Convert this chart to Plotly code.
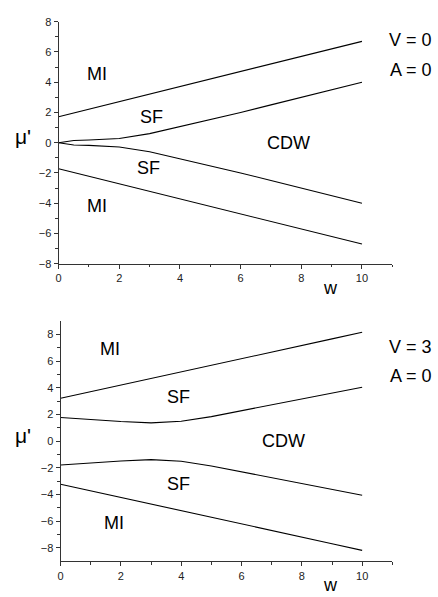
import plotly.graph_objects as go

# ---- data ----
w = [0, 0.5, 1, 2, 3, 4, 5, 6, 7, 8, 9, 10]

# V = 0, A = 0
v0_mi_upper = [1.72, 1.97, 2.22, 2.72, 3.22, 3.72, 4.22, 4.72, 5.21, 5.70, 6.20, 6.70]
v0_sf_upper = [0.0, 0.15, 0.18, 0.28, 0.60, 1.05, 1.50, 2.00, 2.50, 3.00, 3.50, 4.00]
v0_sf_lower = [-v for v in v0_sf_upper]
v0_mi_lower = [-v for v in v0_mi_upper]

# V = 3, A = 0
w3 = [0, 1, 2, 3, 4, 5, 6, 7, 8, 9, 10]
v3_mi_upper = [3.22, 3.71, 4.21, 4.70, 5.20, 5.69, 6.19, 6.68, 7.18, 7.68, 8.18]
v3_sf_upper = [1.78, 1.62, 1.48, 1.38, 1.50, 1.85, 2.30, 2.75, 3.20, 3.62, 4.05]
v3_sf_lower = [-v for v in v3_sf_upper]
v3_mi_lower = [-v for v in v3_mi_upper]

x_ticks = [0, 2, 4, 6, 8, 10]
top_y_ticks = [-8, -6, -4, -2, 0, 2, 4, 6, 8]
bot_y_ticks = [-8, -6, -4, -2, 0, 2, 4, 6, 8]

top_labels = [("MI", 1.27, 4.55), ("SF", 3.05, 1.7), ("SF", 2.97, -1.7),
              ("MI", 1.28, -4.2), ("CDW", 7.58, 0.0)]
bot_labels = [("MI", 1.63, 6.9), ("SF", 3.92, 3.3), ("SF", 3.92, -3.2),
              ("MI", 1.78, -6.1), ("CDW", 7.38, 0.0)]

fig = go.Figure()
line = dict(color="black", width=1.1)
for ys in [v0_mi_upper, v0_sf_upper, v0_sf_lower, v0_mi_lower]:
    fig.add_trace(go.Scatter(x=w, y=ys, mode="lines", line=line, xaxis="x", yaxis="y",
                             showlegend=False, hoverinfo="skip"))
for ys in [v3_mi_upper, v3_sf_upper, v3_sf_lower, v3_mi_lower]:
    fig.add_trace(go.Scatter(x=w3, y=ys, mode="lines", line=line, xaxis="x2", yaxis="y2",
                             showlegend=False, hoverinfo="skip"))

W, H = 438, 597
tickfont = dict(family="Liberation Sans, Arial, sans-serif", size=11, color="#222")
lblfont = dict(family="Liberation Sans, Arial, sans-serif", size=18, color="black")
mufont = dict(family="Liberation Sans, Arial, sans-serif", size=21, color="black")

def xaxis(dom, anchor):
    return dict(domain=dom, anchor=anchor, range=[0, 11.0001], tickmode="array", tickvals=x_ticks,
                ticks="outside", ticklen=4, tickwidth=1, tickcolor="#333",
                showline=True, linecolor="#333", linewidth=1.2, showgrid=False, zeroline=False,
                tickfont=tickfont,
                minor=dict(tickmode="array", tickvals=[1, 3, 5, 7, 9, 11], ticks="outside",
                           ticklen=2.5, tickcolor="#333", showgrid=False))

def yaxis(dom, anchor, rng, ticks, minor):
    return dict(domain=dom, anchor=anchor, range=rng, tickmode="array", tickvals=ticks,
                ticks="outside", ticklen=4, tickwidth=1, tickcolor="#333",
                showline=True, linecolor="#333", linewidth=1.2, showgrid=False, zeroline=False,
                tickfont=tickfont,
                minor=dict(tickmode="array", tickvals=minor, ticks="outside",
                           ticklen=2.5, tickcolor="#333", showgrid=False))

fig.update_layout(
    width=W, height=H, margin=dict(l=0, r=0, t=0, b=0),
    paper_bgcolor="white", plot_bgcolor="white",
    xaxis=xaxis([56 / W, 392 / W], "y"),
    yaxis=yaxis([1 - 263 / H, 1 - 16 / H], "x", [-8, 8], top_y_ticks, [-7, -5, -3, -1, 1, 3, 5, 7]),
    xaxis2=xaxis([58 / W, 392 / W], "y2"),
    yaxis2=yaxis([1 - 566.7 / H, 1 - 321.7 / H], "x2", [-9, 9], bot_y_ticks, [-7, -5, -3, -1, 1, 3, 5, 7]),
)

ann = []
for t, x, y in top_labels:
    ann.append(dict(text=t, x=x, y=y, xref="x", yref="y", showarrow=False, font=lblfont))
for t, x, y in bot_labels:
    ann.append(dict(text=t, x=x, y=y, xref="x2", yref="y2", showarrow=False, font=lblfont))

def pp(t, px, py, font=lblfont):
    return dict(text=t, x=px / W, y=1 - py / H, xref="paper", yref="paper",
                showarrow=False, font=font, xanchor="center", yanchor="middle")

ann += [pp("V = 0", 410.5, 35), pp("A = 0", 410.5, 65),
        pp("V = 3", 410.5, 348), pp("A = 0", 410.5, 378),
        pp("μ'", 20, 133, mufont), pp("μ'", 20, 438, mufont),
        pp("w", 330, 288), pp("w", 330, 591)]
fig.update_layout(annotations=ann)

fig.write_html("out.html")
